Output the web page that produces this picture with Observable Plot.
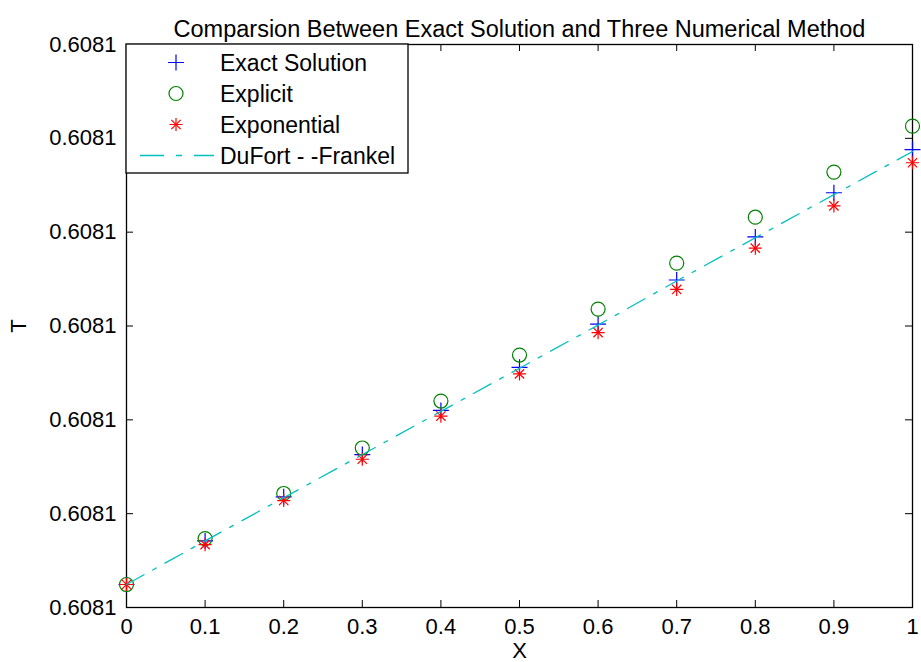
<!DOCTYPE html>
<html><head><meta charset="utf-8">
<script src="https://cdn.jsdelivr.net/npm/d3@7"></script>
<script src="https://cdn.jsdelivr.net/npm/@observablehq/plot@0.6"></script>
<style>body{margin:0;background:#fff}#chart{width:921px;height:662px}</style>
</head><body><div id="chart"></div>
<script>
// ---- data (T values expressed in tick units above the lowest 0.6081 tick) ----
const xValues     = [0, 0.1, 0.2, 0.3, 0.4, 0.5, 0.6, 0.7, 0.8, 0.9, 1];
const exact       = [0.245, 0.71, 1.18, 1.63, 2.10, 2.56, 3.02, 3.49, 3.95, 4.42, 4.88];
const explicit    = [0.245, 0.735, 1.215, 1.70, 2.20, 2.69, 3.18, 3.67, 4.16, 4.64, 5.13];
const exponential = [0.245, 0.67, 1.14, 1.58, 2.04, 2.49, 2.93, 3.39, 3.83, 4.28, 4.74];
const dufort      = [0.245, 0.71, 1.17, 1.63, 2.09, 2.55, 3.01, 3.48, 3.94, 4.40, 4.86];
const xTickLabels = ["0", "0.1", "0.2", "0.3", "0.4", "0.5", "0.6", "0.7", "0.8", "0.9", "1"];
const yTickValues = [0, 1, 2, 3, 4, 5, 6];
const yTickLabels = ["0.6081", "0.6081", "0.6081", "0.6081", "0.6081", "0.6081", "0.6081"];
const seriesNames = ["Exact Solution", "Explicit", "Exponential", "DuFort - -Frankel"];
const chartTitle  = "Comparsion Between Exact Solution and Three Numerical Method";
const xLabel = "X", yLabel = "T";

// ---- layout & style ----
const W = 921, H = 662, mL = 126, mR = 9, mT = 44, mB = 55;
const pw = W - mL - mR, ph = H - mT - mB;
const FONT = "'Liberation Sans', Arial, sans-serif";
const FS = 22, FS_TITLE = 23.5, FS_LEG = 23;
const C_EXACT = "#0000ff", C_EXPL = "#008000", C_EXPO = "#ff0000", C_DUF = "#00bfbf";
const DASH = "20,10,4,10";
const TL = 7;

const rows = xValues.map((x, i) => ({x, exact: exact[i], explicit: explicit[i], exponential: exponential[i], dufort: dufort[i]}));

const plot = Plot.plot({
  width: W, height: H, marginLeft: mL, marginRight: mR, marginTop: mT, marginBottom: mB,
  style: {fontFamily: FONT, fontSize: FS + "px", color: "#000", background: "#fff", overflow: "visible"},
  x: {domain: [0, 1]},
  y: {domain: [0, 6]},
  marks: [
    Plot.axisX({ticks: xValues, tickSize: 0, tickPadding: 11,
      tickFormat: d => xTickLabels[xValues.indexOf(d)],
      label: xLabel, labelAnchor: "center", labelArrow: "none", labelOffset: 50, fontSize: FS}),
    Plot.axisY({ticks: yTickValues, tickSize: 0, tickPadding: 10,
      tickFormat: d => yTickLabels[yTickValues.indexOf(d)],
      label: yLabel, labelAnchor: "center", labelArrow: "none", labelOffset: 116, fontSize: FS}),
    Plot.ruleY(yTickValues, {y: d => d, insetRight: pw - TL, stroke: "#000"}),
    Plot.ruleY(yTickValues, {y: d => d, insetLeft: pw - TL, stroke: "#000"}),
    Plot.ruleX(xValues, {x: d => d, insetTop: ph - TL, stroke: "#000"}),
    Plot.ruleX(xValues, {x: d => d, insetBottom: ph - TL, stroke: "#000"}),
    Plot.frame({stroke: "#000", strokeWidth: 1.3}),
    Plot.dot(rows, {x: "x", y: "exact", symbol: "plus", r: 5.2, stroke: C_EXACT, strokeWidth: 1.2}),
    Plot.dot(rows, {x: "x", y: "explicit", symbol: "circle", r: 7, stroke: C_EXPL, fill: "none", strokeWidth: 1.2}),
    Plot.dot(rows, {x: "x", y: "exponential", symbol: "plus", r: 4.3, stroke: C_EXPO, strokeWidth: 1.2}),
    Plot.dot(rows, {x: "x", y: "exponential", symbol: "times", r: 4.3, stroke: C_EXPO, strokeWidth: 1.2}),
    Plot.line(rows, {x: "x", y: "dufort", stroke: C_DUF, strokeWidth: 1.3, strokeDasharray: DASH}),
    Plot.text([chartTitle], {text: d => d, frameAnchor: "top", dy: -24, fontSize: FS_TITLE})
  ]
});

// ---- legend (inside plot, top-left) ----
const svg = d3.select(plot);
const lg = svg.append("g").attr("transform", `translate(${mL},${mT})`)
  .style("font-family", FONT).style("font-size", FS_LEG + "px").attr("text-anchor", "start");
lg.append("rect").attr("width", 282).attr("height", 129).attr("fill", "#fff").attr("stroke", "#000").attr("stroke-width", 1.3);
const rowY = i => 18.5 + 31 * i;
const mx = 50;
const sym = (type, r) => d3.symbol(type, Math.PI * r * r)();
lg.append("path").attr("d", sym(d3.symbolPlus, 5.2)).attr("transform", `translate(${mx},${rowY(0)})`)
  .attr("stroke", C_EXACT).attr("fill", "none").attr("stroke-width", 1.2);
lg.append("circle").attr("cx", mx).attr("cy", rowY(1)).attr("r", 7)
  .attr("stroke", C_EXPL).attr("fill", "none").attr("stroke-width", 1.2);
[d3.symbolPlus, d3.symbolTimes].forEach(t =>
  lg.append("path").attr("d", sym(t, 4.3)).attr("transform", `translate(${mx},${rowY(2)})`)
    .attr("stroke", C_EXPO).attr("fill", "none").attr("stroke-width", 1.2));
lg.append("line").attr("x1", 14).attr("x2", 88).attr("y1", rowY(3)).attr("y2", rowY(3))
  .attr("stroke", C_DUF).attr("stroke-width", 1.3).attr("stroke-dasharray", "24,12,6,12");
seriesNames.forEach((s, i) =>
  lg.append("text").attr("x", 94).attr("y", rowY(i)).attr("dy", "0.35em").attr("fill", "#000").attr("text-anchor", "start").text(s));

document.getElementById("chart").appendChild(plot);
</script></body></html>
